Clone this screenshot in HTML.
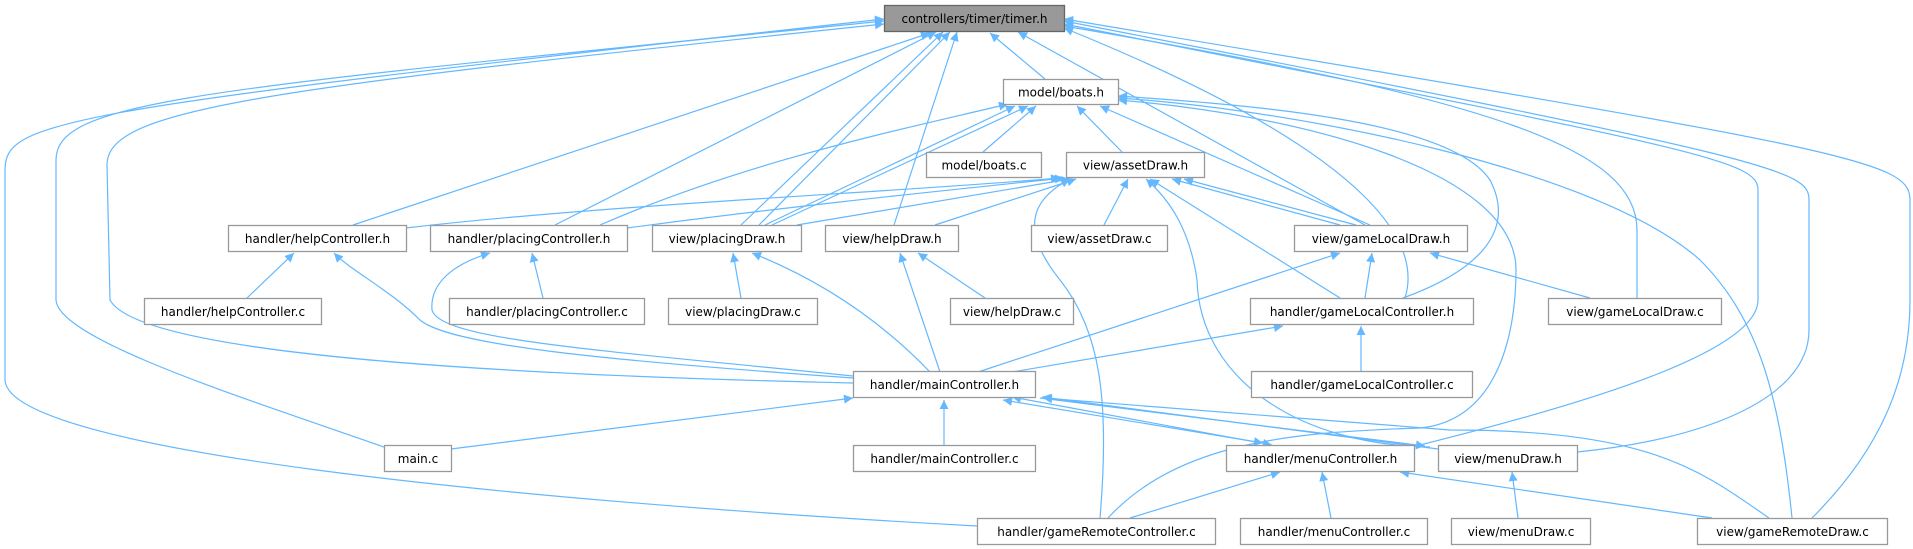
<!DOCTYPE html>
<html><head><meta charset="utf-8"><style>
html,body{margin:0;padding:0;background:#fff;}
svg{display:block;}
text{font-family:"DejaVu Sans","Liberation Sans",sans-serif;font-size:12px;fill:#000;}
.n{fill:#fff;stroke:#999;stroke-width:1.3;}
.e{fill:none;stroke:#63b8ff;stroke-width:1.2;}
</style></head><body>
<svg width="1913" height="549" viewBox="0 0 1913 549" xmlns="http://www.w3.org/2000/svg">
<defs>
<marker id="a" viewBox="0 0 10 10" refX="10" refY="5" markerWidth="11" markerHeight="9" markerUnits="userSpaceOnUse" orient="auto"><path d="M0,0 L10,5 L0,10 z" fill="#63b8ff"/></marker>
<marker id="b" viewBox="0 0 10 10" refX="0" refY="5" markerWidth="11" markerHeight="9" markerUnits="userSpaceOnUse" orient="auto"><path d="M10,0 L0,5 L10,10 z" fill="#63b8ff"/></marker>
</defs>
<g class="e" marker-end="url(#a)">
<path d="M1045,79 L990,33"/>
<path d="M353,225 L930,33"/>
<path d="M555,225 L936,32"/>
<path d="M741,225 L943,32"/>
<path d="M759,225 L950,32"/>
<path d="M894,225 L957,32"/>
<path d="M1365,225 L1018,32"/>
<path d="M1405,298 C1420,250 1390,160 1064,28"/>
<path d="M853,383 C500,375 140,355 110,300 L107,165 C107,110 250,90 884,24"/>
<path d="M384,447 C250,400 58,340 56,300 L56,160 C56,100 200,90 884,21"/>
<path d="M977,526 C500,500 8,450 5,380 L5,170 C5,120 60,110 884,19"/>
<path d="M1420,445 C1600,400 1758,350 1758,300 L1758,190 C1758,160 1700,150 1064,24"/>
<path d="M1577,452 C1700,440 1809,400 1809,330 L1809,200 C1809,170 1780,160 1064,21"/>
<path d="M1812,518 C1880,450 1910,380 1910,300 L1910,200 C1910,160 1850,150 1064,19"/>
<path d="M1637,298 L1637,230 C1637,150 1500,100 1064,26"/>
<path d="M983,152 L1036,106"/>
<path d="M1122,152 L1077,106"/>
<path d="M600,225 C750,160 900,130 1008,104"/>
<path d="M765,225 L1015,106"/>
<path d="M772,225 L1028,106"/>
<path d="M1370,225 L1100,106"/>
<path d="M1403,298 C1480,270 1516,230 1490,180 C1450,120 1250,105 1118,96"/>
<path d="M1108,518 C1180,440 1300,432 1420,428 C1500,420 1516,330 1516,270 C1516,170 1300,115 1118,100"/>
<path d="M1792,518 C1780,400 1760,320 1700,260 C1600,170 1300,110 1118,98"/>
<path d="M1104,225 L1128,179"/>
<path d="M406,228 C600,205 900,192 1060,178"/>
<path d="M627,228 C800,205 950,190 1064,178"/>
<path d="M797,225 L1070,179"/>
<path d="M935,225 L1076,179"/>
<path d="M1340,225 L1172,179"/>
<path d="M1356,225 L1184,179"/>
<path d="M1340,298 L1150,179"/>
<path d="M1100,518 C1110,400 1100,330 1060,280 C1020,230 1030,200 1070,179"/>
<path d="M1430,447 C1300,445 1200,380 1197,280 C1190,230 1170,200 1146,179"/>
<path d="M247,298 L294,253"/>
<path d="M853,378 C600,360 450,345 420,320 C390,290 350,270 334,253"/>
<path d="M543,298 L532,253"/>
<path d="M853,376 C600,350 440,340 432,310 C430,285 450,265 490,253"/>
<path d="M741,298 L733,253"/>
<path d="M930,372 C880,320 820,280 752,253"/>
<path d="M985,298 L918,253"/>
<path d="M940,372 L900,253"/>
<path d="M978,372 L1340,253"/>
<path d="M1365,298 L1372,253"/>
<path d="M1590,298 L1430,253"/>
<path d="M1012,372 L1283,326"/>
<path d="M1361,372 L1361,326"/>
<path d="M451,449 L853,398"/>
<path d="M944,445 L944,400"/>
<path d="M1769,518 C1700,470 1650,430 1450,430 L1043,398"/>
<path d="M1438,449 L1042,397"/>
<path d="M1130,518 L1280,472"/>
<path d="M1331,518 L1322,472"/>
<path d="M1712,518 L1400,472"/>
<path d="M1518,518 L1512,472"/>
<path d="M1040,398 L1425,446"/>
</g>
<g class="e">
<path d="M1003,400 L1263,443" marker-start="url(#b)" marker-end="url(#a)"/>
<path d="M1012,397 L1272,445" marker-start="url(#b)" marker-end="url(#a)"/>
</g>
<rect x="884.5" y="5.5" width="180" height="26" fill="#999" stroke="#666" stroke-width="1.3"/>
<text x="974.5" y="23" text-anchor="middle">controllers/timer/timer.h</text>
<g>
<rect class="n" x="1003.5" y="79.5" width="115" height="25"/><text x="1061" y="96.5" text-anchor="middle">model/boats.h</text>
<rect class="n" x="926.5" y="152.5" width="115" height="25"/><text x="984" y="169.5" text-anchor="middle">model/boats.c</text>
<rect class="n" x="1066.5" y="152.5" width="138" height="25"/><text x="1135.5" y="169.5" text-anchor="middle">view/assetDraw.h</text>
<rect class="n" x="228.5" y="225.5" width="178" height="26"/><text x="317.5" y="243" text-anchor="middle">handler/helpController.h</text>
<rect class="n" x="430.5" y="225.5" width="197" height="26"/><text x="529" y="243" text-anchor="middle">handler/placingController.h</text>
<rect class="n" x="652.5" y="225.5" width="149" height="26"/><text x="727" y="243" text-anchor="middle">view/placingDraw.h</text>
<rect class="n" x="825.5" y="225.5" width="133" height="26"/><text x="892" y="243" text-anchor="middle">view/helpDraw.h</text>
<rect class="n" x="1031.5" y="225.5" width="136" height="26"/><text x="1099.5" y="243" text-anchor="middle">view/assetDraw.c</text>
<rect class="n" x="1294.5" y="225.5" width="173" height="26"/><text x="1381" y="243" text-anchor="middle">view/gameLocalDraw.h</text>
<rect class="n" x="144.5" y="298.5" width="177" height="26"/><text x="233" y="316" text-anchor="middle">handler/helpController.c</text>
<rect class="n" x="449.5" y="298.5" width="195" height="26"/><text x="547" y="316" text-anchor="middle">handler/placingController.c</text>
<rect class="n" x="668.5" y="298.5" width="149" height="26"/><text x="743" y="316" text-anchor="middle">view/placingDraw.c</text>
<rect class="n" x="950.5" y="298.5" width="123" height="26"/><text x="1012" y="316" text-anchor="middle">view/helpDraw.c</text>
<rect class="n" x="1250.5" y="298.5" width="223" height="26"/><text x="1362" y="316" text-anchor="middle">handler/gameLocalController.h</text>
<rect class="n" x="1548.5" y="298.5" width="173" height="26"/><text x="1635" y="316" text-anchor="middle">view/gameLocalDraw.c</text>
<rect class="n" x="853.5" y="371.5" width="182" height="26"/><text x="944.5" y="389" text-anchor="middle">handler/mainController.h</text>
<rect class="n" x="1251.5" y="371.5" width="221" height="26"/><text x="1362" y="389" text-anchor="middle">handler/gameLocalController.c</text>
<rect class="n" x="384.5" y="445.5" width="67" height="26"/><text x="418" y="463" text-anchor="middle">main.c</text>
<rect class="n" x="853.5" y="445.5" width="182" height="26"/><text x="944.5" y="463" text-anchor="middle">handler/mainController.c</text>
<rect class="n" x="1226.5" y="445.5" width="188" height="26"/><text x="1320.5" y="463" text-anchor="middle">handler/menuController.h</text>
<rect class="n" x="1438.5" y="445.5" width="139" height="26"/><text x="1508" y="463" text-anchor="middle">view/menuDraw.h</text>
<rect class="n" x="977.5" y="518.5" width="238" height="26"/><text x="1096.5" y="536" text-anchor="middle">handler/gameRemoteController.c</text>
<rect class="n" x="1240.5" y="518.5" width="187" height="26"/><text x="1334" y="536" text-anchor="middle">handler/menuController.c</text>
<rect class="n" x="1451.5" y="518.5" width="139" height="26"/><text x="1521" y="536" text-anchor="middle">view/menuDraw.c</text>
<rect class="n" x="1697.5" y="518.5" width="190" height="26"/><text x="1792.5" y="536" text-anchor="middle">view/gameRemoteDraw.c</text>
</g>
</svg>
</body></html>
